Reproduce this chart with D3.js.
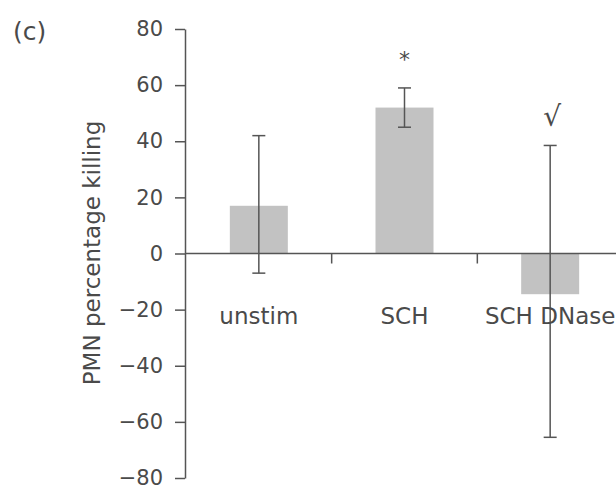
<!DOCTYPE html>
<html>
<head>
<meta charset="utf-8">
<script src="https://cdn.jsdelivr.net/npm/d3@7"></script>
<style>
  body { margin: 0; background: #fff; }
  text { font-family: "DejaVu Sans", sans-serif; fill: #4a4a4a; }
</style>
</head>
<body>
<div id="chart"></div>
<script>
// values
var categories = ["unstim", "SCH", "SCH DNase"];
var means = [17, 52, -14.5];
var errLow = [-7, 45, -65.5];
var errHigh = [42, 59, 38.5];
var marks = ["", "*", "\u221A"];
var yTicks = [80, 60, 40, 20, 0, -20, -40, -60, -80];

var width = 616, height = 494;
var axisColor = "#555";

var svg = d3.select("#chart").append("svg")
    .attr("width", width)
    .attr("height", height);

var x = d3.scaleBand()
    .domain(categories)
    .range([186, 623]);

var y = d3.scaleLinear()
    .domain([-80, 80])
    .range([478, 29]);

var barW = 58;

// bars
svg.selectAll("rect.bar")
    .data(means)
    .enter().append("rect")
    .attr("class", "bar")
    .attr("x", function (d, i) { return x(categories[i]) + x.bandwidth() / 2 - barW / 2; })
    .attr("width", barW)
    .attr("y", function (d) { return y(Math.max(0, d)); })
    .attr("height", function (d) { return Math.abs(y(d) - y(0)); })
    .attr("fill", "#c2c2c2");

// y axis
var yAxis = svg.append("g")
    .attr("transform", "translate(185,0)")
    .call(d3.axisLeft(y).tickValues(yTicks).tickSize(10).tickSizeOuter(0)
        .tickPadding(12)
        .tickFormat(function (d) { return d < 0 ? "\u2212" + Math.abs(d) : d; }));
yAxis.select(".domain").attr("stroke", axisColor).attr("stroke-width", 1.5);
yAxis.selectAll(".tick line").attr("stroke", axisColor).attr("stroke-width", 1.5);
yAxis.selectAll(".tick text")
    .attr("font-size", 21)
    .attr("fill", "#4a4a4a")
    .style("font-family", "'DejaVu Sans', sans-serif");

// x axis line with ticks at category boundaries
svg.append("line")
    .attr("x1", 185).attr("x2", width)
    .attr("y1", y(0)).attr("y2", y(0))
    .attr("stroke", axisColor).attr("stroke-width", 1.5);

svg.selectAll("line.xtick")
    .data(categories)
    .enter().append("line")
    .attr("class", "xtick")
    .attr("x1", function (d) { return x(d) + x.bandwidth(); })
    .attr("x2", function (d) { return x(d) + x.bandwidth(); })
    .attr("y1", y(0))
    .attr("y2", y(0) + 10)
    .attr("stroke", axisColor).attr("stroke-width", 1.5);

// error bars
var eb = svg.selectAll("g.err")
    .data(categories)
    .enter().append("g")
    .attr("class", "err")
    .attr("stroke", axisColor)
    .attr("stroke-width", 1.5);

eb.append("line")
    .attr("x1", function (d) { return x(d) + x.bandwidth() / 2; })
    .attr("x2", function (d) { return x(d) + x.bandwidth() / 2; })
    .attr("y1", function (d, i) { return y(errHigh[i]); })
    .attr("y2", function (d, i) { return y(errLow[i]); });

eb.append("line")
    .attr("x1", function (d) { return x(d) + x.bandwidth() / 2 - 6.5; })
    .attr("x2", function (d) { return x(d) + x.bandwidth() / 2 + 6.5; })
    .attr("y1", function (d, i) { return y(errHigh[i]); })
    .attr("y2", function (d, i) { return y(errHigh[i]); });

eb.append("line")
    .attr("x1", function (d) { return x(d) + x.bandwidth() / 2 - 6.5; })
    .attr("x2", function (d) { return x(d) + x.bandwidth() / 2 + 6.5; })
    .attr("y1", function (d, i) { return y(errLow[i]); })
    .attr("y2", function (d, i) { return y(errLow[i]); });

// category labels
svg.selectAll("text.cat")
    .data(categories)
    .enter().append("text")
    .attr("class", "cat")
    .attr("x", function (d) { return x(d) + x.bandwidth() / 2; })
    .attr("y", 324)
    .attr("text-anchor", "middle")
    .attr("font-size", 23)
    .text(function (d) { return d; });

// significance marks
svg.append("text")
    .attr("x", x("SCH") + x.bandwidth() / 2)
    .attr("y", 67)
    .attr("text-anchor", "middle")
    .attr("font-size", 22)
    .text(marks[1]);

svg.append("text")
    .attr("x", x("SCH DNase") + x.bandwidth() / 2 + 2)
    .attr("y", 126)
    .attr("text-anchor", "middle")
    .attr("font-size", 28)
    .text(marks[2]);

// y axis title
svg.append("text")
    .attr("transform", "translate(100,253) rotate(-90)")
    .attr("text-anchor", "middle")
    .attr("font-size", 23)
    .text("PMN percentage killing");

// panel label
svg.append("text")
    .attr("x", 13)
    .attr("y", 40)
    .attr("font-size", 25)
    .text("(c)");
</script>
</body>
</html>
